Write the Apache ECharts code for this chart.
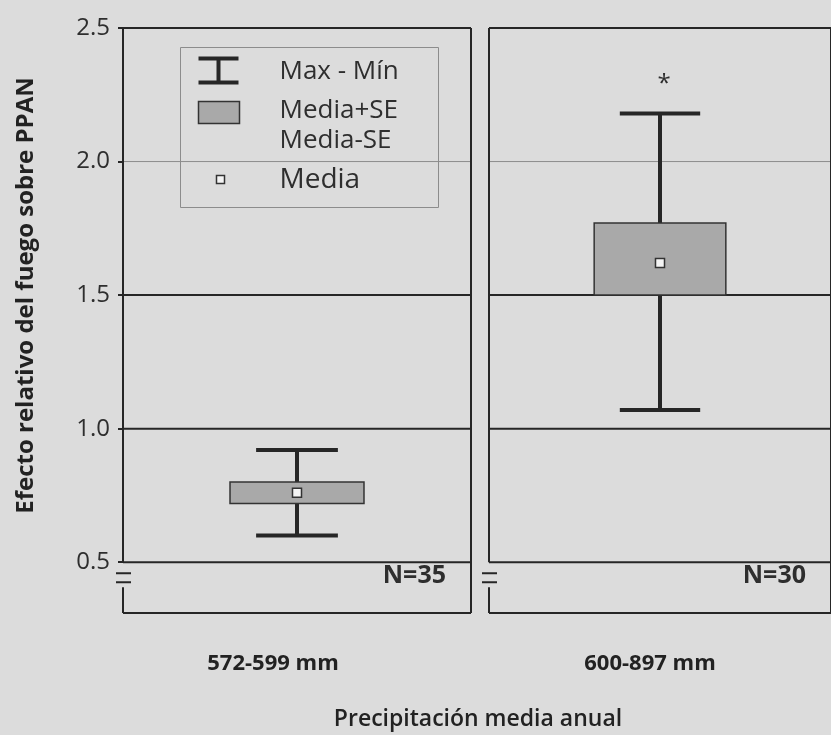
<!DOCTYPE html>
<html>
<head>
<meta charset="utf-8">
<script src="https://cdn.jsdelivr.net/npm/echarts@6/dist/echarts.min.js"></script>
<style>
  html, body { margin: 0; padding: 0; background: #dcdcdc; }
  #chart { width: 831px; height: 735px; }
</style>
</head>
<body>
<div id="chart"></div>
<script>
// values
const categories = ['572-599 mm', '600-897 mm'];
const maxVals = [0.92, 2.18];
const seHigh = [0.80, 1.77];
const means = [0.76, 1.62];
const seLow = [0.72, 1.50];
const minVals = [0.60, 1.07];
const nLabels = ['N=35', 'N=30'];
const sigMarks = ['', '*'];
const yTicks = [0.5, 1.0, 1.5, 2.0, 2.5];
const refLines = [0.5, 1.0, 1.5, 2.0];
const breakValue = 0.5;

const ink = '#262626';
const textColor = '#2e2e2e';
const font = '"Open Sans", "Noto Sans", sans-serif';

const chart = echarts.init(document.getElementById('chart'), null, { renderer: 'canvas' });

function renderPanel(params, api) {
    const cs = params.coordSys;
    const x0 = cs.x, x1 = cs.x + cs.width, yTop = cs.y, yBot = cs.y + cs.height;
    const cat = api.value(0);
    const cx = api.coord([cat, api.value(3)])[0];
    const band = api.size([1, 0])[0];
    const boxW = band * 0.385, capW = band * 0.235;
    const y = v => api.coord([cat, v])[1];
    const yMin = y(api.value(1)), yLo = y(api.value(2)), yMean = y(api.value(3));
    const yHi = y(api.value(4)), yMax = y(api.value(5));
    const yBreak = y(breakValue);
    const children = [];

    refLines.forEach(v => {
        const thin = v === 2.0;
        children.push({
            type: 'line',
            shape: { x1: x0, y1: y(v), x2: x1, y2: y(v) },
            style: { stroke: thin ? '#8c8c8c' : ink, lineWidth: thin ? 1 : 2 }
        });
    });

    // frame with broken left side
    const frame = [
        [x0, yTop, x1, yTop], [x1, yTop, x1, yBot], [x0, yBot, x1, yBot],
        [x0, yTop, x0, yBreak], [x0, yBreak + 25, x0, yBot]
    ];
    frame.forEach(s => children.push({
        type: 'line', shape: { x1: s[0], y1: s[1], x2: s[2], y2: s[3] },
        style: { stroke: ink, lineWidth: 2 }
    }));
    [11, 20].forEach(d => children.push({
        type: 'line', shape: { x1: x0 - 7, y1: yBreak + d, x2: x0 + 8, y2: yBreak + d },
        style: { stroke: ink, lineWidth: 2 }
    }));

    // whiskers
    children.push({ type: 'line', shape: { x1: cx, y1: yMax, x2: cx, y2: yMin }, style: { stroke: ink, lineWidth: 4 } });
    [yMax, yMin].forEach(yy => children.push({
        type: 'line', shape: { x1: cx - capW / 2, y1: yy, x2: cx + capW / 2, y2: yy },
        style: { stroke: ink, lineWidth: 4 }
    }));
    // SE box
    children.push({
        type: 'rect', shape: { x: cx - boxW / 2, y: yHi, width: boxW, height: yLo - yHi },
        style: { fill: '#a9a9a9', stroke: '#333', lineWidth: 1.5 }
    });
    // mean marker
    children.push({
        type: 'rect', shape: { x: cx - 4.5, y: yMean - 4.5, width: 9, height: 9 },
        style: { fill: '#f4f4f4', stroke: '#333', lineWidth: 1.5 }
    });
    const sig = sigMarks[params.seriesIndex];
    if (sig) {
        children.push({
            type: 'text',
            style: { text: sig, x: cx + 4, y: yMax - 29, font: '24px ' + font, fill: textColor,
                     align: 'center', verticalAlign: 'middle', textAlign: 'center', textVerticalAlign: 'middle' }
        });
    }
    children.push({
        type: 'text',
        style: { text: nLabels[params.seriesIndex], x: x1 - 25, y: yBreak + 14,
                 font: 'bold 25px ' + font, fill: textColor,
                 align: 'right', verticalAlign: 'middle', textAlign: 'right', textVerticalAlign: 'middle' }
    });
    return { type: 'group', children: children };
}

const yBase = {
    type: 'value', min: 0.31, max: 2.5,
    splitLine: { show: false },
    axisLine: { show: false }
};

const option = {
    backgroundColor: '#dcdcdc',
    animation: false,
    grid: [
        { left: 123, top: 28, width: 348, bottom: 122 },
        { left: 489, top: 28, width: 348, bottom: 122 }
    ],
    xAxis: [0, 1].map(i => ({
        type: 'category', gridIndex: i, data: [categories[i]],
        axisLine: { show: false }, axisTick: { show: false },
        axisLabel: {
            margin: 40, color: '#222', fontSize: 22, fontWeight: 'bold', fontFamily: font,
            padding: [0, i === 0 ? 48 : 20, 0, 0]
        }
    })),
    yAxis: [
        Object.assign({}, yBase, {
            gridIndex: 0,
            name: 'Efecto relativo del fuego sobre PPAN',
            nameLocation: 'middle', nameRotate: 90, nameGap: 85,
            nameTextStyle: { fontSize: 24, fontWeight: 'bold', color: '#222', fontFamily: font,
                             padding: [0, 0, 0, 50] },
            axisTick: { show: true, inside: false, length: 5, customValues: yTicks, lineStyle: { color: ink, width: 2 } },
            axisLabel: { customValues: yTicks, margin: 13, fontSize: 24, color: textColor, fontFamily: font,
                         formatter: v => v.toFixed(1) }
        }),
        Object.assign({}, yBase, {
            gridIndex: 1,
            axisTick: { show: false }, axisLabel: { show: false }
        })
    ],
    series: [0, 1].map(i => ({
        type: 'custom', xAxisIndex: i, yAxisIndex: i, clip: false,
        renderItem: renderPanel,
        data: [[0, minVals[i], seLow[i], means[i], seHigh[i], maxVals[i]]]
    })),
    graphic: [
        {
            type: 'group', left: 180, top: 47, z: 100,
            children: [
                { type: 'rect', shape: { x: 0, y: 0, width: 258, height: 160 },
                  style: { fill: '#dcdcdc', stroke: '#8c8c8c', lineWidth: 1 } },
                // max-min symbol
                { type: 'line', shape: { x1: 18, y1: 11, x2: 58, y2: 11 }, style: { stroke: ink, lineWidth: 4 } },
                { type: 'line', shape: { x1: 18, y1: 35, x2: 58, y2: 35 }, style: { stroke: ink, lineWidth: 4 } },
                { type: 'line', shape: { x1: 38, y1: 11, x2: 38, y2: 35 }, style: { stroke: ink, lineWidth: 4 } },
                // SE box symbol
                { type: 'rect', shape: { x: 18, y: 54, width: 41, height: 22 },
                  style: { fill: '#a9a9a9', stroke: '#333', lineWidth: 1.5 } },
                // mean symbol
                { type: 'rect', shape: { x: 36, y: 128, width: 8, height: 8 },
                  style: { fill: '#f4f4f4', stroke: '#333', lineWidth: 1.5 } },
                { type: 'text', style: { text: 'Max - Mín', x: 99, y: 24, font: '26px ' + font, fill: textColor,
                  verticalAlign: 'middle', textVerticalAlign: 'middle' } },
                { type: 'text', style: { text: 'Media+SE', x: 99, y: 63, font: '26px ' + font, fill: textColor,
                  verticalAlign: 'middle', textVerticalAlign: 'middle' } },
                { type: 'text', style: { text: 'Media-SE', x: 99, y: 93, font: '26px ' + font, fill: textColor,
                  verticalAlign: 'middle', textVerticalAlign: 'middle' } },
                { type: 'text', style: { text: 'Media', x: 99, y: 133, font: '28px ' + font, fill: textColor,
                  verticalAlign: 'middle', textVerticalAlign: 'middle' } }
            ]
        },
        {
            type: 'text', z: 100,
            style: { text: 'Precipitación media anual', x: 478, y: 719, font: '600 23px ' + font, fill: '#222',
                     align: 'center', verticalAlign: 'middle', textAlign: 'center', textVerticalAlign: 'middle' }
        }
    ]
};

chart.setOption(option);
</script>
</body>
</html>
